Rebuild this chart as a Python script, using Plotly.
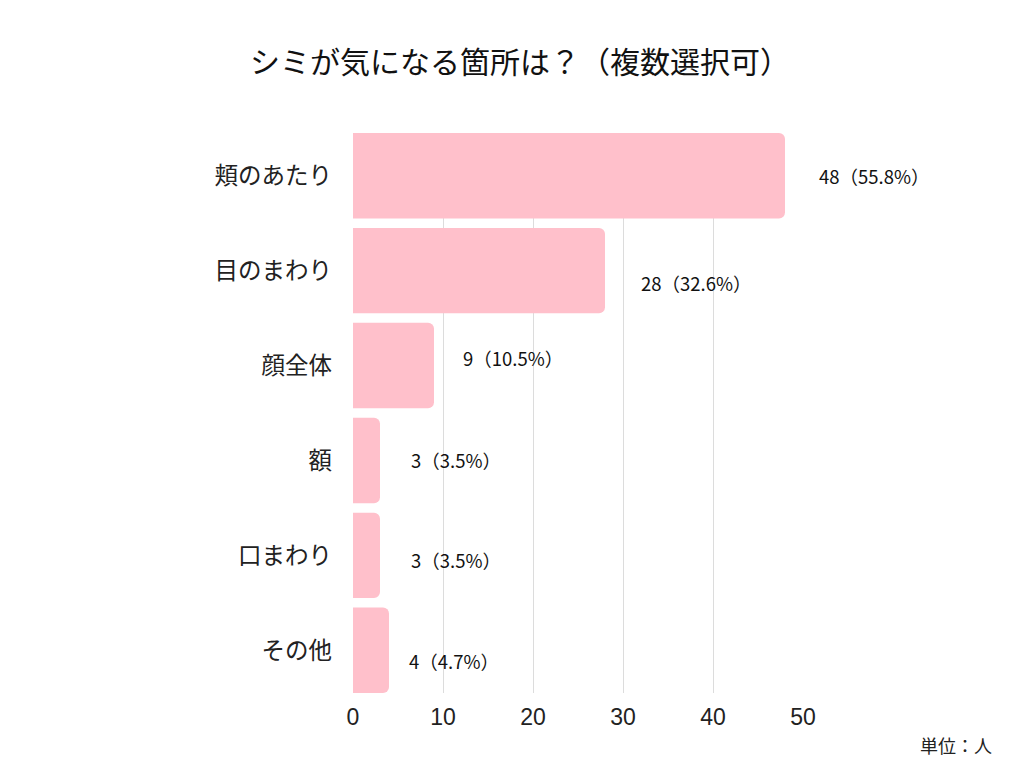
import plotly.graph_objects as go

categories = ["頬のあたり", "目のまわり", "顔全体", "額", "口まわり", "その他"]
counts = [48, 28, 9, 3, 3, 4]
percents = ["55.8%", "32.6%", "10.5%", "3.5%", "3.5%", "4.7%"]
tick_vals = [0, 10, 20, 30, 40, 50]

# label offsets (pixels) to mimic reference placement
label_dx = [32, 34, 27, 29, 29, 18]
label_dy = [0, -12, 8, 0, -5, -11]

FONT = "Noto Sans CJK JP"
PAGE_OFF = 8  # browser body margin

L, R, T, B = 353 - PAGE_OFF, 1024 - 803 + PAGE_OFF, 133 - PAGE_OFF, 768 - 693 + PAGE_OFF
PW, PH = 1024 - L - R, 768 - T - B

fig = go.Figure()
fig.add_trace(go.Bar(
    x=counts, y=categories, orientation="h",
    marker=dict(color="#FFC0CB", cornerradius=6, line=dict(width=0)),
    width=0.9, hoverinfo="skip",
))

for c, v, p, dx, dy in zip(categories, counts, percents, label_dx, label_dy):
    fig.add_annotation(
        x=v, y=c, text=f"{v}（{p}）", showarrow=False,
        xanchor="left", yanchor="middle", xshift=dx, yshift=dy,
        font=dict(family=FONT, size=18.5, color="#111111"),
    )

fig.add_annotation(
    xref="paper", yref="paper",
    x=(994 - PAGE_OFF - L) / PW, y=-((745 - PAGE_OFF) - (T + PH)) / PH,
    xanchor="right", yanchor="middle",
    text="単位：人", showarrow=False,
    font=dict(family=FONT, size=18, color="#222222"),
)

fig.update_layout(
    width=1024, height=768,
    margin=dict(l=L, r=R, t=T, b=B),
    paper_bgcolor="white", plot_bgcolor="white",
    title=dict(text="シミが気になる箇所は？（複数選択可）", x=0.5, xanchor="center",
               y=1 - (62 - PAGE_OFF) / 768, yanchor="middle",
               font=dict(family=FONT, size=30, color="#111111")),
    showlegend=False,
    xaxis=dict(range=[0, 50], tickvals=tick_vals, showgrid=True, gridcolor="#dcdcdc",
               gridwidth=1, zeroline=False, showline=False, ticks="",
               tickfont=dict(family="Liberation Sans", size=23, color="#222222")),
    yaxis=dict(categoryorder="array", categoryarray=categories, range=[5.45, -0.45],
               showgrid=False, zeroline=False, showline=False, ticks="", ticklen=0,
               tickfont=dict(family=FONT, size=23.5, color="#222222")),
)
fig.update_yaxes(ticklabelstandoff=20)
fig.update_xaxes(ticklabelstandoff=8)

fig.write_html("out.html")
